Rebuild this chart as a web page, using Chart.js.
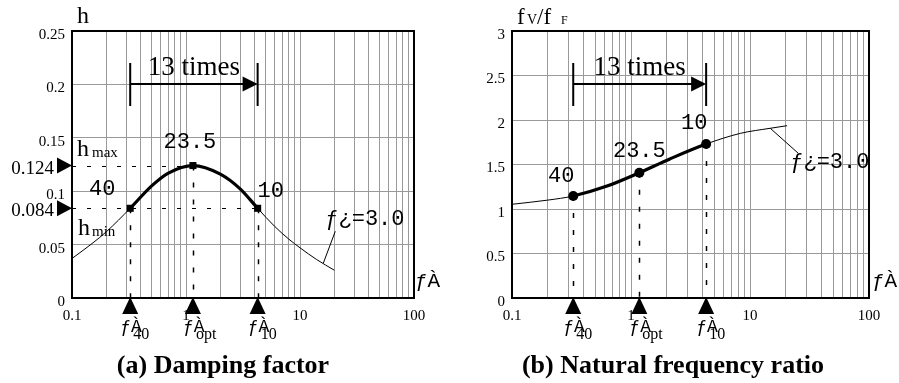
<!DOCTYPE html>
<html><head><meta charset="utf-8">
<script src="https://cdn.jsdelivr.net/npm/chart.js@4/dist/chart.umd.min.js"></script>
<style>
html,body{margin:0;padding:0;background:#fff;overflow:hidden}
#wrap{position:relative;width:899px;height:383px;background:#fff}
canvas{position:absolute;top:0}
</style></head><body>
<div id="wrap">
<canvas id="ca" width="450" height="383" style="left:0;width:450px;height:383px"></canvas>
<canvas id="cb" width="449" height="383" style="left:450px;width:449px;height:383px"></canvas>
</div>
<script>
// ---------- data ----------
const xMajorTicks = [0.1, 1, 10, 100];
const xTickLabels = ['0.1', '1', '10', '100'];

const yTicksA = [0, 0.05, 0.1, 0.15, 0.2, 0.25];
const yTickLabelsA = ['0', '0.05', '0.1', '0.15', '0.2', '0.25'];
const yTicksB = [0, 0.5, 1, 1.5, 2, 2.5, 3];
const yTickLabelsB = ['0', '0.5', '1', '1.5', '2', '2.5', '3'];

// (a) damping factor curve
const freqA = [0.1, 0.15, 0.2, 0.324, 0.5, 0.7, 1.15, 2, 3, 4.25, 6, 8, 10, 14, 20];
const dampA = [0.037, 0.051, 0.062, 0.084, 0.105, 0.117, 0.124, 0.116, 0.102, 0.084, 0.067, 0.055, 0.047, 0.036, 0.026];
const keyFreqA = [0.324, 1.15, 4.25];
const keyDampA = [0.084, 0.124, 0.084];
const keyLabels = ['40', '23.5', '10'];
const keySubs = ['40', 'opt', '10'];
const hMarkValues = [0.124, 0.084];
const hMarkLabels = ['0.124', '0.084'];

// (b) natural frequency ratio curve
const freqB = [0.1, 0.2, 0.327, 0.62, 1.175, 2.1, 4.28, 8.3, 14.8, 20.5];
const ratioB = [1.053, 1.10, 1.146, 1.255, 1.408, 1.56, 1.73, 1.85, 1.907, 1.936];
const keyFreqB = [0.327, 1.175, 4.28];
const keyRatioB = [1.146, 1.408, 1.73];

const curveLabel = 'ƒ¿=3.0';
const xAxisName = 'ƒÀ';
const spanLabel = '13 times';
const titleA = '(a) Damping factor';
const titleB = '(b) Natural frequency ratio';

// ---------- drawing ----------
const SERIF = "'Liberation Serif', 'Times New Roman', serif";
const MONO = "'Liberation Mono', 'Courier New', monospace";

function tri(ctx, pts) {
  ctx.beginPath(); ctx.moveTo(pts[0], pts[1]); ctx.lineTo(pts[2], pts[3]); ctx.lineTo(pts[4], pts[5]); ctx.closePath(); ctx.fill();
}

function annotPlugin(o) {
  return {
    id: 'annot',
    beforeDatasetsDraw(chart) {
      const ctx = chart.ctx, xs = chart.scales.x, ys = chart.scales.y, a = chart.chartArea;
      ctx.save();
      ctx.strokeStyle = '#000';
      // vertical dashed guides
      ctx.lineWidth = 1.5; ctx.setLineDash([5, 12]);
      o.kx.forEach((x, i) => {
        const px = Math.round(xs.getPixelForValue(x)) + 0.5, py = ys.getPixelForValue(o.ky[i]);
        ctx.beginPath(); ctx.moveTo(px, py); ctx.lineTo(px, a.bottom); ctx.stroke();
      });
      // horizontal dashed guides
      ctx.lineWidth = 1; ctx.setLineDash([4, 11]);
      (o.hGuides || []).forEach(g => {
        const py = Math.round(ys.getPixelForValue(g[0])) + 0.5;
        ctx.beginPath(); ctx.moveTo(a.left, py); ctx.lineTo(xs.getPixelForValue(g[1]), py); ctx.stroke();
      });
      ctx.restore();
    },
    afterDraw(chart) {
      const ctx = chart.ctx, xs = chart.scales.x, ys = chart.scales.y, a = chart.chartArea;
      ctx.save();
      ctx.fillStyle = '#000'; ctx.strokeStyle = '#000';
      // frame
      ctx.lineWidth = 2; ctx.setLineDash([]);
      ctx.strokeRect(a.left, a.top, a.right - a.left, a.bottom - a.top);

      // triangles under x axis and labels
      o.kx.forEach((x, i) => {
        const px = xs.getPixelForValue(x);
        tri(ctx, [px, a.bottom - 1, px - 8, a.bottom + 16, px + 8, a.bottom + 16]);
        ctx.textAlign = 'left'; ctx.textBaseline = 'alphabetic';
        ctx.font = '18px ' + MONO;
        ctx.fillText(xAxisName, px - 10, 332);
        ctx.font = '16px ' + SERIF;
        ctx.fillText(keySubs[i], px + 3, 339);
      });

      // value labels near key points
      ctx.font = '22px ' + MONO; ctx.textAlign = 'center';
      o.kx.forEach((x, i) => {
        const px = xs.getPixelForValue(x), py = ys.getPixelForValue(o.ky[i]);
        ctx.fillText(keyLabels[i], px + o.numOff[i][0], py + o.numOff[i][1]);
      });

      // "13 times" span
      const x0 = xs.getPixelForValue(o.kx[0]), x1 = xs.getPixelForValue(o.kx[o.kx.length - 1]);
      const yl = a.top + 53;
      ctx.lineWidth = 2;
      ctx.beginPath();
      ctx.moveTo(x0, a.top + 32); ctx.lineTo(x0, a.top + 75);
      ctx.moveTo(x1, a.top + 32); ctx.lineTo(x1, a.top + 75);
      ctx.moveTo(x0, yl); ctx.lineTo(x1 - 10, yl);
      ctx.stroke();
      tri(ctx, [x1, yl, x1 - 15, yl - 7.5, x1 - 15, yl + 7.5]);
      ctx.font = '27px ' + SERIF; ctx.textAlign = 'center';
      ctx.fillText(spanLabel, (x0 + x1) / 2, a.top + 44);

      // curve label with leader
      const ax = xs.getPixelForValue(o.anchor[0]), ay = ys.getPixelForValue(o.anchor[1]);
      ctx.lineWidth = 1;
      ctx.beginPath(); ctx.moveTo(ax, ay); ctx.lineTo(ax + o.leader[0], ay + o.leader[1]); ctx.stroke();
      ctx.font = '22px ' + MONO; ctx.textAlign = 'left';
      ctx.fillText(curveLabel, ax + o.labelOff[0], ay + o.labelOff[1]);

      // x axis name
      ctx.font = '21px ' + MONO;
      ctx.fillText(xAxisName, a.right + o.xNameDx, a.bottom - 11);

      // y-axis value markers (a only)
      (o.hMarks || []).forEach((v, i) => {
        const py = ys.getPixelForValue(v);
        tri(ctx, [a.left, py, a.left - 15, py - 8, a.left - 15, py + 8]);
        ctx.font = '19px ' + SERIF; ctx.textAlign = 'right';
        ctx.fillText(hMarkLabels[i], a.left - 18, py + 8);
      });
      if (o.hMarks) {
        const pmax = ys.getPixelForValue(hMarkValues[0]);
        const pmin = ys.getPixelForValue(hMarkValues[1]);
        ctx.textAlign = 'left';
        ctx.font = '24px ' + SERIF; ctx.fillText('h', a.left + 5, pmax - 10);
        ctx.font = '15px ' + SERIF; ctx.fillText('max', a.left + 20, pmax - 9);
        ctx.font = '24px ' + SERIF; ctx.fillText('h', a.left + 6, pmin + 27);
        ctx.font = '15px ' + SERIF; ctx.fillText('min', a.left + 20, pmin + 28);
      }

      // axis name at top
      ctx.textAlign = 'left';
      o.drawYName(ctx, a);

      // bottom title
      ctx.font = 'bold 26px ' + SERIF; ctx.textAlign = 'center';
      ctx.fillText(o.title, 223, 373);
      ctx.restore();
    }
  };
}

function buildChart(id, o) {
  const gridVals = [];
  for (let i = 0; i < xMajorTicks.length - 1; i++)
    for (let k = 1; k < 10; k++) gridVals.push(xMajorTicks[i] * k);
  gridVals.push(xMajorTicks[xMajorTicks.length - 1]);
  const curve = o.xs.map((x, i) => ({x: x, y: o.ys[i]}));
  const keys = o.kx.map((x, i) => ({x: x, y: o.ky[i]}));
  const lo = o.kx[0], hi = o.kx[o.kx.length - 1];
  return new Chart(document.getElementById(id), {
    type: 'line',
    data: {datasets: [
      {data: curve, borderColor: '#000', borderWidth: 1, pointRadius: 0, fill: false,
       cubicInterpolationMode: 'monotone',
       segment: {borderWidth: c => (c.p0.parsed.x >= lo * 0.999 && c.p1.parsed.x <= hi * 1.001) ? 3.2 : 1}},
      {data: keys, showLine: false, pointStyle: o.pointStyle, pointRadius: o.pointRadius,
       pointBackgroundColor: '#000', pointBorderColor: '#000', pointBorderWidth: 0}
    ]},
    options: {
      responsive: false, animation: false, devicePixelRatio: 1,
      layout: {padding: {left: 0, top: 31, right: o.padRight, bottom: 0}},
      plugins: {legend: {display: false}, tooltip: {enabled: false}},
      scales: {
        x: {type: 'logarithmic', min: 0.1, max: 100,
          afterFit: s => { s.height = 85; },
          afterBuildTicks: s => { s.ticks = gridVals.map(v => ({value: v})); },
          ticks: {autoSkip: false, maxRotation: 0, minRotation: 0, padding: 9,
            font: {family: SERIF, size: 15}, color: '#000',
            callback: v => { const i = xMajorTicks.findIndex(m => Math.abs(m - v) / m < 1e-6); return i >= 0 ? xTickLabels[i] : ''; }},
          grid: {color: '#9a9a9a', lineWidth: 1, drawTicks: false},
          border: {color: '#000', width: 2}},
        y: {type: 'linear', min: o.yTicks[0], max: o.yTicks[o.yTicks.length - 1],
          afterFit: s => { s.width = o.yAxisWidth; },
          afterBuildTicks: s => { s.ticks = o.yTicks.map(v => ({value: v})); },
          ticks: {padding: 7, labelOffset: 4, font: {family: SERIF, size: 15}, color: '#000',
            callback: (v, i) => o.yLabels[i]},
          grid: {color: '#9a9a9a', lineWidth: 1, drawTicks: false},
          border: {color: '#000', width: 2}}
      }
    },
    plugins: [annotPlugin(o)]
  });
}

buildChart('ca', {
  xs: freqA, ys: dampA, kx: keyFreqA, ky: keyDampA,
  yTicks: yTicksA, yLabels: yTickLabelsA,
  pointStyle: 'rect', pointRadius: 5,
  yAxisWidth: 72, padRight: 36,
  hGuides: [[keyDampA[1], keyFreqA[1]], [keyDampA[0], keyFreqA[2]]],
  hMarks: hMarkValues,
  numOff: [[-28, -13], [-3, -18], [13, -11]],
  anchor: [16, 0.0325], leader: [12, -32], labelOff: [2, -38],
  xNameDx: 1,
  title: titleA,
  drawYName: (ctx, a) => { ctx.font = '24px ' + SERIF; ctx.fillText('h', 77, 23); }
});

buildChart('cb', {
  xs: freqB, ys: ratioB, kx: keyFreqB, ky: keyRatioB,
  yTicks: yTicksB, yLabels: yTickLabelsB,
  pointStyle: 'circle', pointRadius: 5,
  yAxisWidth: 62, padRight: 30,
  hGuides: [],
  hMarks: null,
  numOff: [[-12, -14], [0, -16], [-12, -15]],
  anchor: [14.8, 1.907], leader: [28, 25], labelOff: [20, 40],
  xNameDx: 3,
  title: titleB,
  drawYName: (ctx, a) => {
    ctx.font = '23px ' + SERIF; ctx.fillText('f', 67, 24);
    ctx.font = '14px ' + SERIF; ctx.fillText('V', 77, 24);
    ctx.font = '23px ' + SERIF; ctx.fillText('/f', 87, 24);
    ctx.font = '12px ' + SERIF; ctx.fillText('F', 111, 24);
  }
});
</script>
</body></html>
